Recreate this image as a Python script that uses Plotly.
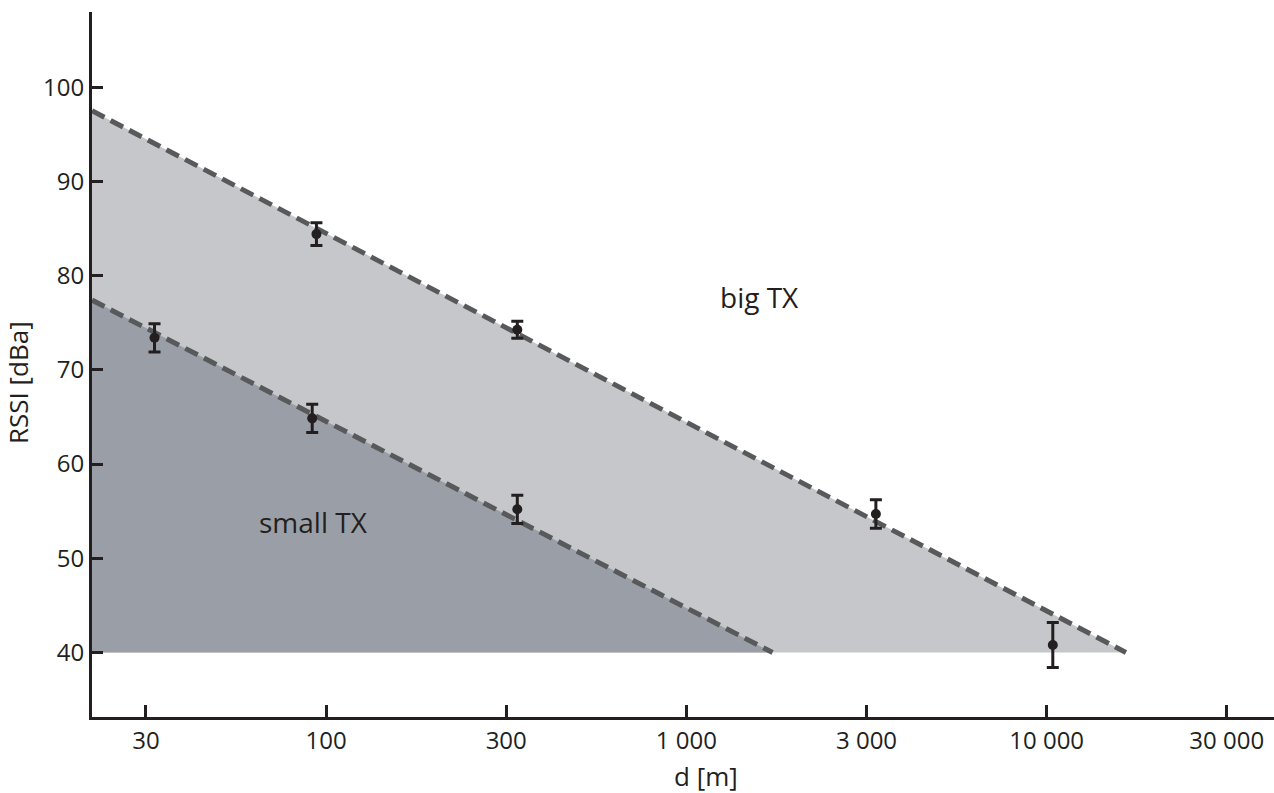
import plotly.graph_objects as go

# ---- data ----
# model (fit) lines: endpoints [d, RSSI]
big_fit_d = [22.4, 16600]
big_fit_rssi = [97.5, 40]
small_fit_d = [22.4, 1734]
small_fit_rssi = [77.4, 40]
floor_rssi = 40

# measured points with error bars
big_d = [94.0, 339.4, 3357, 10400]
big_rssi = [84.4, 74.25, 54.7, 40.8]
big_err = [1.2, 0.9, 1.5, 2.4]

small_d = [33.4, 91.5, 339.4]
small_rssi = [73.4, 64.85, 55.2]
small_err = [1.5, 1.5, 1.5]

# axis ticks (ticks drawn at half-decade spacing, labelled 30, 100, 300, ...)
x_tick_vals = [31.62, 100, 316.2, 1000, 3162, 10000, 31620]
x_tick_text = ["30", "100", "300", "1 000", "3 000", "10 000", "30 000"]
y_tick_vals = [40, 50, 60, 70, 80, 90, 100]

LIGHT = "#c6c7ca"
DARK = "#9a9fa7"
LINE = "#58595b"
INK = "#231f20"
FONT = "Open Sans"

fig = go.Figure()

# filled regions
fig.add_trace(go.Scatter(
    x=[big_fit_d[0], big_fit_d[0], big_fit_d[1]],
    y=[floor_rssi, big_fit_rssi[0], big_fit_rssi[1]],
    fill="toself", fillcolor=LIGHT, mode="none", hoverinfo="skip", showlegend=False))
fig.add_trace(go.Scatter(
    x=[small_fit_d[0], small_fit_d[0], small_fit_d[1]],
    y=[floor_rssi, small_fit_rssi[0], small_fit_rssi[1]],
    fill="toself", fillcolor=DARK, mode="none", hoverinfo="skip", showlegend=False))

# dashed fit lines
for fd, fr in [(big_fit_d, big_fit_rssi), (small_fit_d, small_fit_rssi)]:
    fig.add_trace(go.Scatter(
        x=fd, y=fr, mode="lines",
        line=dict(color=LINE, width=5, dash="14px,7px"),
        showlegend=False, hoverinfo="skip"))

# points with error bars
for d, r, e in [(big_d, big_rssi, big_err), (small_d, small_rssi, small_err)]:
    fig.add_trace(go.Scatter(
        x=d, y=r, mode="markers",
        marker=dict(color=INK, size=10),
        error_y=dict(type="data", array=e, visible=True, color=INK, thickness=3, width=6),
        showlegend=False))

fig.add_annotation(x=3.204, y=77.7, xref="x", yref="y", text="big TX", showarrow=False,
                   font=dict(family=FONT, size=28, color=INK))
fig.add_annotation(x=1.965, y=53.8, xref="x", yref="y", text="small TX", showarrow=False,
                   font=dict(family=FONT, size=28, color=INK))

# axis titles
fig.add_annotation(x=18, y=383, xref="paper", yref="paper", text="RSSI [dBa]", showarrow=False,
                   textangle=-90, font=dict(family=FONT, size=26, color=INK))
fig.add_annotation(x=706, y=776, xref="paper", yref="paper", text="d [m]", showarrow=False,
                   font=dict(family=FONT, size=26, color=INK))

W, H = 1274, 793
L, R, T, B = 92, 0, 12, 76

# convert the two pixel-placed annotations to paper coords
for a in fig.layout.annotations:
    if a.xref == "paper":
        a.x = (a.x - L) / (W - L - R)
        a.y = 1 - (a.y - T) / (H - T - B)
        a.xanchor = "center"
        a.yanchor = "middle"

fig.update_layout(
    width=W, height=H,
    margin=dict(l=L, r=R, t=T, b=B),
    paper_bgcolor="white", plot_bgcolor="white",
    font=dict(family=FONT, size=24, color=INK),
    xaxis=dict(type="log", range=[1.3502, 4.631], tickvals=x_tick_vals, ticktext=x_tick_text,
               showline=True, linecolor=INK, linewidth=3, ticks="inside", ticklen=12,
               tickwidth=3, tickcolor=INK, showgrid=False, zeroline=False,
               tickfont=dict(family=FONT, size=24, color=INK)),
    yaxis=dict(range=[33.16, 107.97], tickvals=y_tick_vals,
               showline=True, linecolor=INK, linewidth=3, ticks="inside", ticklen=11,
               tickwidth=3, tickcolor=INK, showgrid=False, zeroline=False,
               tickfont=dict(family=FONT, size=24, color=INK)),
)

fig.write_html("out.html")
